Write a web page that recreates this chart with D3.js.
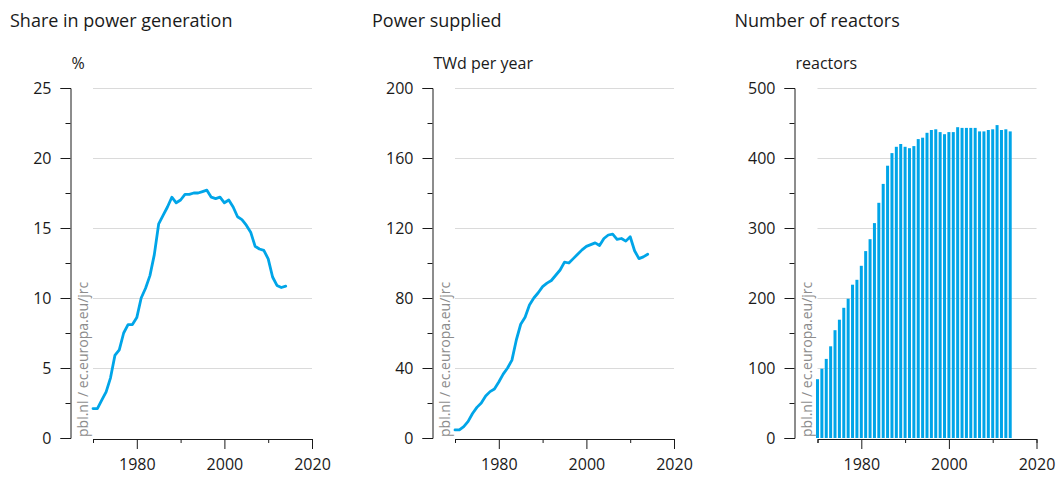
<!DOCTYPE html>
<html>
<head>
<meta charset="utf-8">
<script src="https://cdn.jsdelivr.net/npm/d3@7"></script>
<style>
  html, body { margin: 0; padding: 0; background: #fff; }
  svg { display: block; }
  text { font-family: "Open Sans", "Noto Sans", sans-serif; fill: #1a1a1a; }
  .title { font-size: 18px; }
  .unit { font-size: 16px; }
  .credit { font-size: 14px; fill: #8c8c8c; }
</style>
</head>
<body>
<svg id="chart" width="1058" height="477"></svg>
<script>
// Nuclear power in the EU, 1970–2014
const years = [1970, 1971, 1972, 1973, 1974, 1975, 1976, 1977, 1978, 1979,
  1980, 1981, 1982, 1983, 1984, 1985, 1986, 1987, 1988, 1989,
  1990, 1991, 1992, 1993, 1994, 1995, 1996, 1997, 1998, 1999,
  2000, 2001, 2002, 2003, 2004, 2005, 2006, 2007, 2008, 2009,
  2010, 2011, 2012, 2013, 2014];

// Share of nuclear in power generation (%)
const shareValues = [2.1, 2.1, 2.7, 3.3, 4.3, 5.9, 6.3, 7.5, 8.1, 8.1,
  8.6, 10.0, 10.7, 11.6, 13.1, 15.3, 15.9, 16.5, 17.2, 16.8,
  17.0, 17.4, 17.4, 17.5, 17.5, 17.6, 17.7, 17.2, 17.1, 17.2,
  16.8, 17.0, 16.5, 15.8, 15.6, 15.2, 14.7, 13.7, 13.5, 13.4,
  12.8, 11.5, 10.9, 10.75, 10.85];

// Power supplied (TWd per year)
const supplyValues = [4.6, 4.6, 6.5, 9.5, 14, 17.5, 20, 24, 26.5, 28,
  32, 36.5, 40, 44.5, 56, 65, 69, 76, 80, 83,
  86.5, 88.5, 90, 93, 96, 100.5, 100, 102.5, 105, 107.5,
  109.5, 110.5, 111.5, 110, 114, 116, 116.5, 113.5, 114, 112.5,
  115, 107, 102.5, 103.5, 105];

// Number of reactors in operation
const reactorValues = [84, 99, 113, 131, 154, 169, 186, 199, 219, 226,
  246, 267, 284, 307, 336, 363, 389, 407, 416, 420,
  416, 414, 417, 427, 429, 436, 440, 441, 437, 434,
  437, 437, 444, 443, 443, 443, 443, 438, 438, 440,
  441, 447, 440, 441, 438];

const titles = ["Share in power generation", "Power supplied", "Number of reactors"];
const units = ["%", "TWd per year", "reactors"];
const yMajorTicks = [[0, 5, 10, 15, 20, 25], [0, 40, 80, 120, 160, 200], [0, 100, 200, 300, 400, 500]];
const yMinorTicks = [[2.5, 7.5, 12.5, 17.5, 22.5], [20, 60, 100, 140, 180], [50, 150, 250, 350, 450]];
const xMajorTicks = [1980, 2000, 2020];
const xMinorTicks = [1970, 1990, 2010];
const credit = "pbl.nl / ec.europa.eu/jrc";

const blue = "#00a5e8";
const svg = d3.select("#chart");

const panels = [
  { left: 93,    values: shareValues,   kind: "line" },
  { left: 455,   values: supplyValues,  kind: "line" },
  { left: 817.5, values: reactorValues, kind: "bar" }
];
const plotW = 219, plotTop = 88, plotBottom = 438, axisGap = 23.5;

panels.forEach((p, i) => {
  const g = svg.append("g");
  const x = d3.scaleLinear().domain([1970, 2020]).range([p.left, p.left + plotW]);
  const yMax = yMajorTicks[i][yMajorTicks[i].length - 1];
  const y = d3.scaleLinear().domain([0, yMax]).range([plotBottom, plotTop]);
  const axisX = Math.round(p.left - axisGap) + 0.5;

  // titles
  g.append("text").attr("class", "title")
    .attr("x", p.left - 83).attr("y", 27).text(titles[i]);
  g.append("text").attr("class", "unit")
    .attr("x", axisX + 1).attr("y", 69).text(units[i]);

  // gridlines
  g.append("g").selectAll("line")
    .data(yMajorTicks[i].filter(v => v > 0))
    .join("line")
    .attr("x1", p.left).attr("x2", p.left + plotW)
    .attr("y1", d => Math.round(y(d)) + 0.5).attr("y2", d => Math.round(y(d)) + 0.5)
    .attr("stroke", "#dadada").attr("stroke-width", 1.2);

  // y axis
  const yAxis = g.append("g").attr("transform", `translate(${axisX},0)`);
  yAxis.call(d3.axisLeft(y).tickValues(yMajorTicks[i]).tickSize(10).tickSizeOuter(10).tickPadding(9));
  yAxis.append("g").call(d3.axisLeft(y).tickValues(yMinorTicks[i]).tickSize(5).tickSizeOuter(0).tickFormat(""))
    .select(".domain").remove();

  // x axis
  const xAxis = g.append("g").attr("transform", `translate(0,${plotBottom + 1})`);
  xAxis.call(d3.axisBottom(x).tickValues(xMajorTicks).tickSize(10).tickSizeOuter(4).tickFormat(d3.format("d")));
  xAxis.selectAll(".tick text").attr("y", 20).attr("dy", "0.71em");
  xAxis.append("g").call(d3.axisBottom(x).tickValues(xMinorTicks).tickSize(4).tickSizeOuter(0).tickFormat(""))
    .select(".domain").remove();

  g.selectAll(".domain, .tick line").attr("stroke", "#1a1a1a");
  g.selectAll(".tick text")
    .attr("fill", "#1a1a1a")
    .attr("font-family", null)
    .style("font-size", "16px");

  // data
  if (p.kind === "line") {
    const line = d3.line().x((d, j) => x(years[j])).y(d => y(d)).curve(d3.curveLinear);
    g.append("path").datum(p.values)
      .attr("d", line)
      .attr("fill", "none").attr("stroke", blue)
      .attr("stroke-width", 2.8).attr("stroke-linejoin", "round").attr("stroke-linecap", "round");
  } else {
    const bw = 3;
    g.append("g").selectAll("rect")
      .data(p.values)
      .join("rect")
      .attr("x", (d, j) => x(years[j]) - bw / 2)
      .attr("width", bw)
      .attr("y", d => y(d))
      .attr("height", d => plotBottom - y(d))
      .attr("fill", blue);
  }

  // source credit
  g.append("text").attr("class", "credit")
    .attr("transform", `translate(${axisX + 17},${plotBottom - 1}) rotate(-90)`)
    .text(credit);
});
</script>
</body>
</html>
